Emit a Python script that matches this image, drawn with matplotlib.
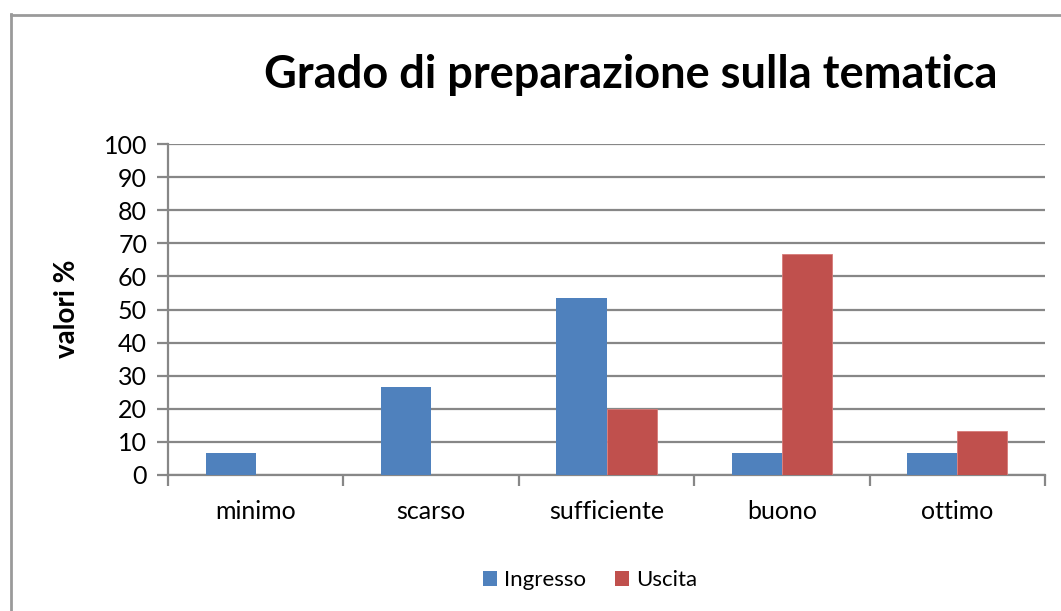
import matplotlib
matplotlib.use("Agg")
import matplotlib.pyplot as plt
from matplotlib.lines import Line2D
from matplotlib.patches import Patch
import numpy as np

categories = ["minimo", "scarso", "sufficiente", "buono", "ottimo"]
ingresso = [6.67, 26.67, 53.33, 6.67, 6.67]
uscita = [0, 0, 20, 66.67, 13.33]
series_names = ["Ingresso", "Uscita"]
colors = ["#4F81BD", "#C0504D"]
title = "Grado di preparazione sulla tematica"
ylabel = "valori %"

plt.rcParams['font.family'] = ['Lato', 'DejaVu Sans']

W, H = 1061, 611
fig = plt.figure(figsize=(W / 100, H / 100), dpi=100)
fig.patch.set_facecolor("white")

def px(x0, y0, x1, y1):
    return [x0 / W, 1 - y1 / H, (x1 - x0) / W, (y1 - y0) / H]

ax = fig.add_axes(px(168, 144, 1045, 475))
grid_c = "#878787"
x = np.arange(len(categories))
bw = 0.2857
ax.bar(x - bw / 2, ingresso, bw, color=colors[0], zorder=3, label=series_names[0])
ax.bar(x + bw / 2, uscita, bw, color=colors[1], zorder=3, label=series_names[1],
       edgecolor="#D77A78", linewidth=0.6)

ax.set_xlim(-0.5, len(categories) - 0.5)
ax.set_ylim(0, 100)
ax.set_yticks(np.arange(0, 101, 10))
ax.yaxis.grid(True, color=grid_c, linewidth=1.6, zorder=0)
ax.set_axisbelow(True)
for s in ["top", "right"]:
    ax.spines[s].set_visible(False)
for s in ["left", "bottom"]:
    ax.spines[s].set_color(grid_c)
    ax.spines[s].set_linewidth(1.6)
ax.tick_params(axis="y", length=8, width=1.6, color=grid_c, labelsize=18, pad=7,
               labelcolor="black")
ax.set_xticks(np.arange(-0.5, len(categories), 1.0))
ax.set_xticklabels([])
ax.set_xticks(x, minor=True)
ax.set_xticklabels(categories, minor=True)
ax.tick_params(axis="x", which="major", length=8, width=1.6, color=grid_c)
ax.tick_params(axis="x", which="minor", length=0, labelsize=18, pad=18, labelcolor="black")

fig.text(631 / W, 1 - 75 / H, title, ha="center", va="center", fontsize=32.5,
         fontweight="bold")
fig.text(67 / W, 1 - 309 / H, ylabel, ha="center", va="center", fontsize=20,
         fontweight="bold", rotation=90)

handles = [Patch(facecolor=c, label=n) for c, n in zip(colors, series_names)]
fig.legend(handles=handles, loc="center", bbox_to_anchor=(590 / W, 1 - 580 / H),
           ncol=2, frameon=False, fontsize=16, handlelength=0.65, handleheight=0.65,
           handletextpad=0.3, columnspacing=1.3)

border_c = "#9A9A9A"
fig.add_artist(Line2D([10.5 / W, 10.5 / W], [1 - 14 / H, 0], color=border_c, lw=2,
                      transform=fig.transFigure))
fig.add_artist(Line2D([10.5 / W, 1], [1 - 14.5 / H, 1 - 14.5 / H], color=border_c, lw=2,
                      transform=fig.transFigure))

fig.savefig("out.png", dpi=100)
